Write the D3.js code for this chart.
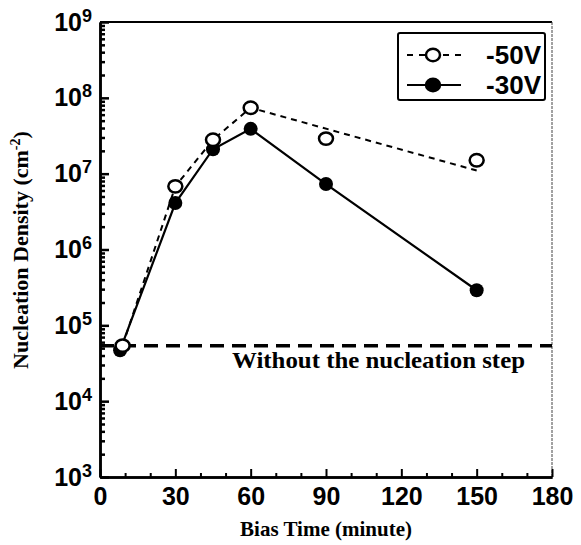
<!DOCTYPE html>
<html>
<head>
<meta charset="utf-8">
<script src="https://cdn.jsdelivr.net/npm/d3@7/dist/d3.min.js"></script>
<style>
  html, body { margin: 0; padding: 0; background: #fff; }
  svg { display: block; }
</style>
</head>
<body>
<svg id="chart" width="581" height="545"></svg>
<script>
// Bias time (minutes) and nucleation density (cm^-2) for the two bias voltages
const times50 = [9, 30, 45, 60, 90, 150];
const density50 = [5.4e4, 6.8e6, 2.8e7, 7.4e7, 2.9e7, 1.5e7];
const times30 = [8, 30, 45, 60, 90, 150];
const density30 = [4.7e4, 4.1e6, 2.1e7, 3.9e7, 7.3e6, 2.9e5];
// Guide curve drawn through the -50V data
const guideTimes50 = [9, 30, 45, 60, 150];
const guideDensity50 = [5.4e4, 6.8e6, 2.8e7, 7.4e7, 1.1e7];
// Density reached without the nucleation step
const baselineDensity = 5.4e4;
const baselineLabel = "Without the nucleation step";
// Axis ticks
const xTickValues = [0, 30, 60, 90, 120, 150, 180];
const xMinorValues = [10, 20, 40, 50, 70, 80, 100, 110, 130, 140, 160, 170];
const yTickExponents = [3, 4, 5, 6, 7, 8, 9];
const seriesNames = ["-50V", "-30V"];

const svg = d3.select("#chart");
const plot = { left: 100, right: 552, top: 22, bottom: 477 };

const x = d3.scaleLinear().domain([0, 180]).range([plot.left, plot.right]);
const y = d3.scaleLog().domain([1e3, 1e9]).range([plot.bottom, plot.top]);

const sans = "'Liberation Sans', Arial, sans-serif";
const serif = "'Liberation Serif', 'Times New Roman', serif";

// Frame: heavy left/bottom, lighter top, thin right edge
svg.append("line").attr("x1", plot.left).attr("x2", plot.right).attr("y1", plot.top).attr("y2", plot.top)
  .attr("stroke", "#000").attr("stroke-width", 2);
svg.append("line").attr("x1", plot.right).attr("x2", plot.right).attr("y1", plot.top).attr("y2", plot.bottom)
  .attr("stroke", "#444").attr("stroke-width", 1).attr("stroke-dasharray", "3,1");

// Y axis: major decade ticks and minor 2..9 ticks, pointing inward
const yMajor = yTickExponents.map(e => Math.pow(10, e));
const yMinor = [];
yTickExponents.slice(0, -1).forEach(e => {
  for (let m = 2; m <= 9; m++) yMinor.push(m * Math.pow(10, e));
});

const yAxisMinor = svg.append("g").attr("transform", `translate(${plot.left},0)`)
  .call(d3.axisLeft(y).tickValues(yMinor).tickSizeInner(-5).tickSizeOuter(0).tickFormat(""));
const yAxisMajor = svg.append("g").attr("transform", `translate(${plot.left},0)`)
  .call(d3.axisLeft(y).tickValues(yMajor).tickSizeInner(-9).tickSizeOuter(0).tickFormat(""));
[yAxisMinor, yAxisMajor].forEach(g => {
  g.selectAll("line").attr("stroke", "#000").attr("stroke-width", 2.5);
  g.select(".domain").attr("stroke", "#000").attr("stroke-width", 2.5);
});

// Decade labels written as 10 with a superscript exponent
const yLabels = svg.append("g");
yTickExponents.forEach(e => {
  const t = yLabels.append("text")
    .attr("x", 92).attr("y", y(Math.pow(10, e)) + 8.5)
    .attr("text-anchor", "end")
    .attr("font-family", sans).attr("font-weight", "bold").attr("font-size", 25);
  t.append("tspan").text("10");
  t.append("tspan").attr("font-size", 18).attr("dy", -9).text(e);
});

// X axis: major ticks every 30 and minor ticks every 10
const xAxisMinor = svg.append("g").attr("transform", `translate(0,${plot.bottom})`)
  .call(d3.axisBottom(x).tickValues(xMinorValues).tickSizeInner(-4).tickSizeOuter(0).tickFormat(""));
const xAxisMajor = svg.append("g").attr("transform", `translate(0,${plot.bottom})`)
  .call(d3.axisBottom(x).tickValues(xTickValues).tickSizeInner(-8).tickSizeOuter(0).tickPadding(10).tickFormat(d3.format("d")));
[xAxisMinor, xAxisMajor].forEach(g => {
  g.selectAll("line").attr("stroke", "#000").attr("stroke-width", 2);
  g.select(".domain").attr("stroke", "#000").attr("stroke-width", 2.5);
});
xAxisMajor.selectAll("text")
  .attr("font-family", sans).attr("font-weight", "bold").attr("font-size", 25).attr("fill", "#000")
  .attr("dy", "0.71em");

// Axis titles
svg.append("text").attr("x", 326).attr("y", 536).attr("text-anchor", "middle")
  .attr("font-family", serif).attr("font-weight", "bold").attr("font-size", 21)
  .text("Bias Time (minute)");

const yTitle = svg.append("text")
  .attr("transform", "translate(28,250) rotate(-90)")
  .attr("text-anchor", "middle")
  .attr("font-family", serif).attr("font-weight", "bold").attr("font-size", 22);
yTitle.append("tspan").text("Nucleation Density (cm");
yTitle.append("tspan").attr("font-size", 14).attr("dy", -8).text("-2");
yTitle.append("tspan").attr("dy", 8).text(")");

// Baseline without the nucleation step
svg.append("line")
  .attr("x1", plot.left).attr("x2", plot.right)
  .attr("y1", y(baselineDensity)).attr("y2", y(baselineDensity))
  .attr("stroke", "#000").attr("stroke-width", 3.5).attr("stroke-dasharray", "14,8");
svg.append("text").attr("x", 232).attr("y", y(baselineDensity) + 22)
  .attr("font-family", serif).attr("font-weight", "bold").attr("font-size", 23)
  .attr("textLength", 293).attr("lengthAdjust", "spacingAndGlyphs")
  .text(baselineLabel);

const line = d3.line().x(d => x(d[0])).y(d => y(d[1]));

// -50V: dashed guide with open circles
svg.append("path")
  .datum(d3.zip(guideTimes50, guideDensity50))
  .attr("d", line).attr("fill", "none")
  .attr("stroke", "#000").attr("stroke-width", 2).attr("stroke-dasharray", "6,5");

// -30V: solid line with filled circles
svg.append("path")
  .datum(d3.zip(times30, density30))
  .attr("d", line).attr("fill", "none")
  .attr("stroke", "#000").attr("stroke-width", 2.2);

svg.append("g").selectAll("circle")
  .data(d3.zip(times30, density30)).join("circle")
  .attr("cx", d => x(d[0])).attr("cy", d => y(d[1])).attr("r", 7)
  .attr("fill", "#000");

svg.append("g").selectAll("ellipse")
  .data(d3.zip(times50, density50)).join("ellipse")
  .attr("cx", d => x(d[0])).attr("cy", d => y(d[1])).attr("rx", 7).attr("ry", 6.2)
  .attr("fill", "#fff").attr("stroke", "#000").attr("stroke-width", 2.5);

// Legend
const legend = svg.append("g");
legend.append("rect").attr("x", 398).attr("y", 33).attr("width", 147).attr("height", 67)
  .attr("fill", "#fff").attr("stroke", "#000").attr("stroke-width", 2).attr("rx", 2);
const rows = [
  { name: seriesNames[0], y: 55, dash: "6,6", open: true },
  { name: seriesNames[1], y: 85, dash: null, open: false }
];
rows.forEach(r => {
  legend.append("line").attr("x1", 407).attr("x2", 461).attr("y1", r.y).attr("y2", r.y)
    .attr("stroke", "#000").attr("stroke-width", r.open ? 2 : 2.2)
    .attr("stroke-dasharray", r.dash);
  legend.append("ellipse").attr("cx", 433).attr("cy", r.y).attr("rx", 7).attr("ry", 6.2)
    .attr("fill", r.open ? "#fff" : "#000").attr("stroke", "#000").attr("stroke-width", 2.5);
  legend.append("text").attr("x", 541).attr("y", r.y + 9).attr("text-anchor", "end")
    .attr("font-family", sans).attr("font-weight", "bold").attr("font-size", 26)
    .text(r.name);
});
</script>
</body>
</html>
